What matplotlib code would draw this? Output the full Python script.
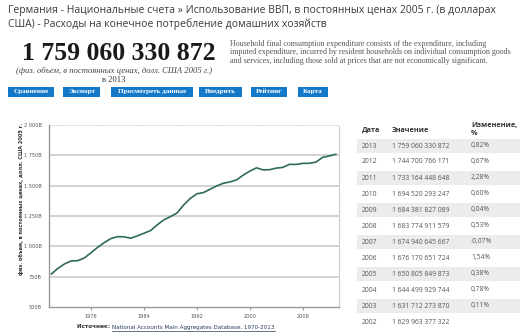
import matplotlib.pyplot as plt
from matplotlib.patches import Rectangle
import numpy as np

W, H = 522, 334

# household final consumption, bn USD (2005 prices) for 1970-2001
years_early = list(range(1970, 2002))
values_early = [772, 819, 855, 880, 882, 905, 948, 992, 1031, 1064,
                1080, 1078, 1067, 1086, 1108, 1130, 1177, 1218, 1245, 1275,
                1341, 1395, 1433, 1443, 1471, 1498, 1520, 1531, 1548, 1587,
                1620, 1647]

# table rows (2013 -> 2002)
table_years = [2013, 2012, 2011, 2010, 2009, 2008, 2007, 2006, 2005, 2004, 2003, 2002]
table_values = [1759060330872, 1744700766171, 1733164448648, 1694520293247,
                1684381827089, 1683774911579, 1674940645667, 1676170651724,
                1650805849873, 1644499929744, 1631712273870, 1629963377322]
table_change = ["0,82%", "0,67%", "2,28%", "0,60%", "0,04%", "0,53%",
                "-0,07%", "1,54%", "0,38%", "0,78%", "0,11%", ""]

years = years_early + table_years[::-1]
values = values_early + [v / 1e9 for v in table_values[::-1]]

yticks = [500, 750, 1000, 1250, 1500, 1750, 2000]
ytick_labels = ["500B", "750B", "1 000B", "1 250B", "1 500B", "1 750B", "2 000B"]
xticks = [1976, 1984, 1992, 2000, 2008]

buttons = ["Сравнение", "Экспорт", "Просмотреть данные", "Внедрить", "Рейтинг", "Карта"]
button_x = [(8, 54), (63, 100), (111, 193), (199, 242), (251, 287), (298, 328)]


def fmt(n):
    return f"{n:,}".replace(",", " ")


def px(x, y):
    return x / W, 1 - y / H


fig = plt.figure(figsize=(W / 100, H / 100), dpi=100)
fig.patch.set_facecolor("white")

# header
title_font = ["Open Sans", "DejaVu Sans"]
fig.text(*px(8, 11), "Германия - Национальные счета » Использование ВВП, в постоянных ценах 2005 г. (в долларах",
         fontsize=7.5, family=title_font, color="#3a3a3a", va="center")
fig.text(*px(8, 24), "США) - Расходы на конечное потребление домашних хозяйств",
         fontsize=7.5, family=title_font, color="#3a3a3a", va="center")

fig.text(*px(119, 54), fmt(table_values[0]), fontsize=18.5, family="Liberation Serif",
         weight="bold", color="#1a1a1a", ha="center", va="center")
fig.text(*px(114, 71), "(физ. объем, в постоянных ценах, долл. США 2005 г.)", fontsize=6.2,
         family="Liberation Serif", style="italic", color="#444444", ha="center", va="center")
fig.text(*px(114, 80), "в 2013", fontsize=6.2, family="Liberation Serif", color="#333333",
         ha="center", va="center")

for label, (bx0, bx1) in zip(buttons, button_x):
    fig.patches.append(Rectangle(px(bx0, 97), (bx1 - bx0) / W, 10 / H, transform=fig.transFigure,
                                 facecolor="#1479c9", edgecolor="none"))
    fig.text(*px((bx0 + bx1) / 2, 92), label, fontsize=5.1, family="Liberation Serif",
             weight="bold", color="white", ha="center", va="center")

desc = ["Household final consumption expenditure consists of the expenditure, including",
        "imputed expenditure, incurred by resident households on individual consumption goods",
        "and services, including those sold at prices that are not economically significant."]
for i, line in enumerate(desc):
    fig.text(*px(230, 44 + i * 8.5), line, fontsize=5.8, family="Liberation Serif",
             color="#555555", va="center")

# chart
x0, x1, y0, y1 = 49, 339, 125, 307
ax = fig.add_axes([x0 / W, 1 - y1 / H, (x1 - x0) / W, (y1 - y0) / H])
ax.plot(years, values, color="#2f6b57", lw=1.2, zorder=3)
ax.set_xlim(1969.64, 2013.48)
ax.set_ylim(500, 2000)
for v in yticks[1:-1]:
    ax.axhline(v, color="#d2d2d2", lw=1.4, zorder=1)
ax.axhline(2000, color="#cccccc", lw=0.8, ls=(0, (1, 1)), zorder=1)
ax.set_yticks(yticks)
ax.set_yticklabels(ytick_labels)
ax.set_xticks(xticks)
ax.tick_params(axis="y", length=0, labelsize=3.6, labelcolor="#555555", pad=5)
ax.tick_params(axis="x", length=2, color="#999999", labelsize=3.6, labelcolor="#555555", pad=3)
for s in ["left", "bottom"]:
    ax.spines[s].set_color("#9a9a9a")
    ax.spines[s].set_linewidth(1.0)
ax.spines["top"].set_visible(False)
ax.spines["right"].set_color("#cccccc")
ax.spines["right"].set_linestyle((0, (1, 1)))
ax.spines["right"].set_linewidth(0.8)

fig.text(*px(21, 199), "физ. объем, в постоянных ценах, долл. США 2005 г.", rotation=90,
         fontsize=3.6, family="DejaVu Sans", weight="bold", color="#333333",
         ha="center", va="center")

src = fig.text(*px(77, 327), "Источник: ", fontsize=4.1, family="DejaVu Sans", weight="bold",
               color="#333333", va="center")
fig.canvas.draw()
bb = src.get_window_extent()
link_x = bb.x1 / W
link = fig.text(link_x, 1 - 327 / H, "National Accounts Main Aggregates Database, 1970-2013",
                fontsize=4.1, family="DejaVu Sans", color="#2a3b5a", va="center")
fig.canvas.draw()
lb = link.get_window_extent()
fig.lines.append(plt.Line2D([lb.x0 / W, lb.x1 / W], [1 - 330.5 / H, 1 - 330.5 / H],
                            transform=fig.transFigure, color="#2a3b5a", lw=0.5))

# data table
cell_font = ["Open Sans", "DejaVu Sans"]
fig.text(*px(362, 130), "Дата", fontsize=5.2, family=cell_font, weight="bold", color="#333333", va="center")
fig.text(*px(392, 130), "Значение", fontsize=5.2, family=cell_font, weight="bold", color="#333333", va="center")
fig.text(*px(471, 125), "Изменение,", fontsize=5.2, family=cell_font, weight="bold", color="#333333", va="center")
fig.text(*px(471, 134), "%", fontsize=5.2, family=cell_font, weight="bold", color="#333333", va="center")

row_h = 16
for i, (yr, val, ch) in enumerate(zip(table_years, table_values, table_change)):
    yc = 146 + i * row_h
    if i % 2 == 0:
        fig.patches.append(Rectangle(px(357, yc + row_h / 2 - 1), (520 - 357) / W, (row_h - 2) / H,
                                     transform=fig.transFigure, facecolor="#ececec", edgecolor="none"))
    fig.text(*px(362, yc), str(yr), fontsize=4.9, family=cell_font, color="#555555", va="center")
    fig.text(*px(392, yc), fmt(val), fontsize=4.9, family=cell_font, color="#555555", va="center")
    fig.text(*px(471, yc), ch, fontsize=4.9, family=cell_font, color="#555555", va="center")

fig.savefig("out.png", dpi=100)
